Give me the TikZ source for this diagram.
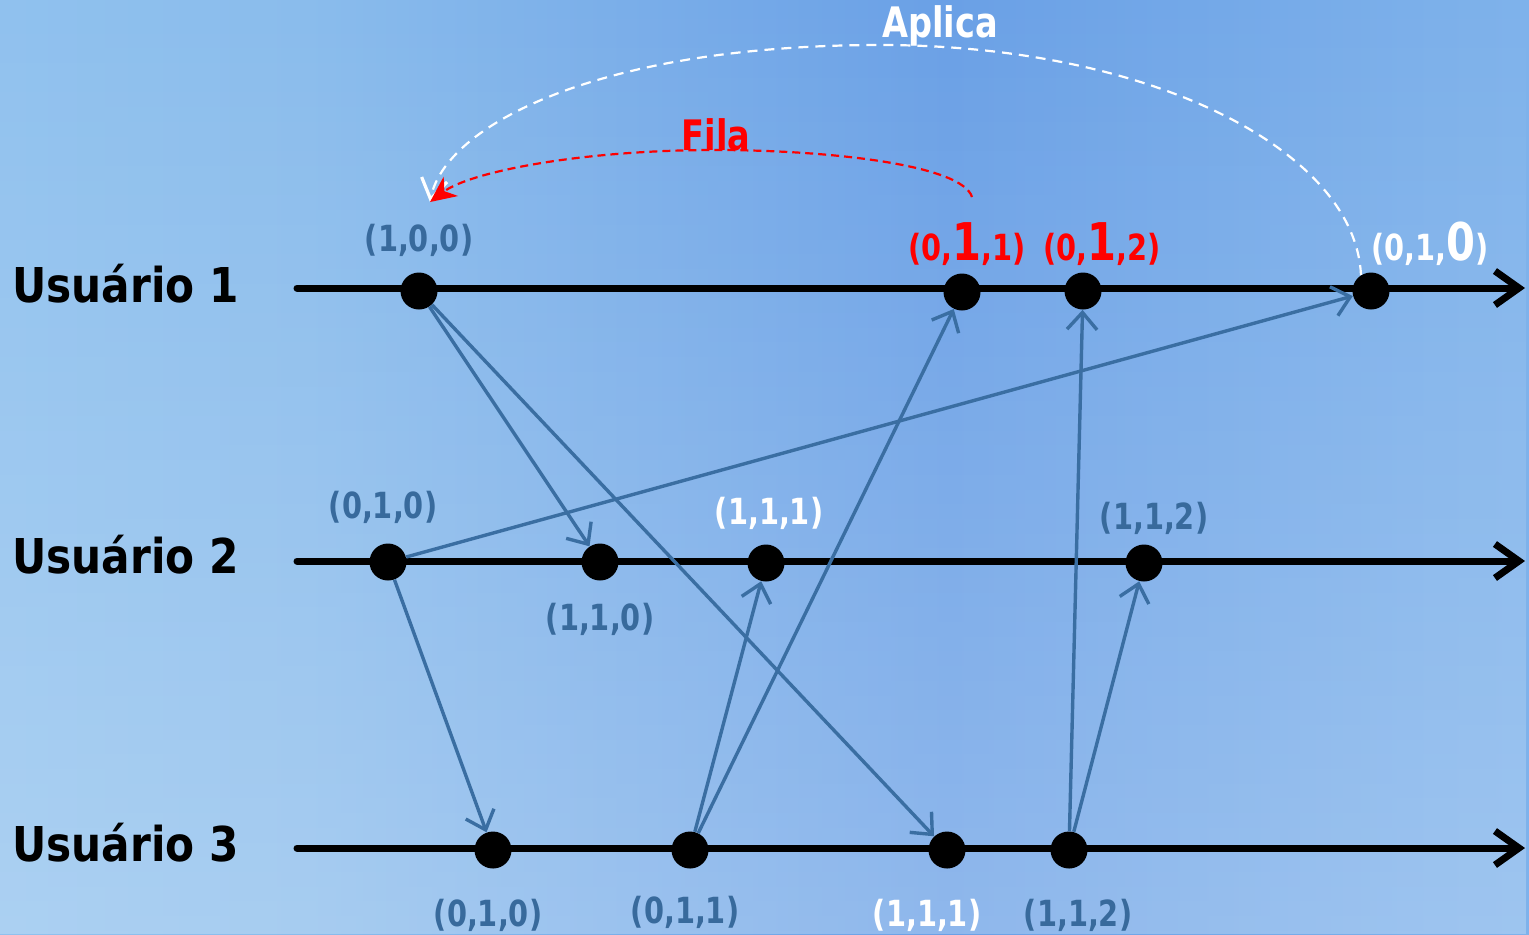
\documentclass[tikz,border=0pt]{standalone}
\usepackage{fontspec}
\setmainfont{DejaVu Sans}[FakeStretch=0.88]
\newfontfamily\lf{DejaVu Sans}[FakeStretch=0.8]
\usetikzlibrary{arrows.meta,fadings}
\definecolor{lblue}{RGB}{56,106,156}
\definecolor{ablue}{RGB}{58,110,162}
\definecolor{bgA}{RGB}{156,203,242}
\definecolor{bgB}{RGB}{147,196,239}
\definecolor{bgC}{RGB}{138,188,236}
\definecolor{bgD}{RGB}{106,160,230}
\definecolor{bgE}{RGB}{124,176,234}
\definecolor{bgF}{RGB}{146,196,241}
\pgfdeclarehorizontalshading{bgsh}{100bp}{color(0bp)=(bgA); color(20bp)=(bgB); color(35bp)=(bgC); color(56bp)=(bgD); color(72bp)=(bgE); color(100bp)=(bgF)}
\tikzfading[name=fadeup, top color=transparent!100, bottom color=transparent!0]
\begin{document}
\begin{tikzpicture}[x=0.5pt,y=-0.5pt,
  dot/.style={circle,fill=black,inner sep=0pt,minimum size=18.5pt},
  lbl/.style={font=\lf\bfseries\fontsize{18}{18}\selectfont, text=lblue, inner sep=0pt, anchor=base},
  msg/.style={draw=ablue, line width=1.7pt, -{Straight Barb[length=8.5pt,width=15pt]}},
  tl/.style={line width=3.5pt, -{Straight Barb[length=12pt,width=17pt]}, line cap=round},
  user/.style={font=\bfseries\fontsize{24}{24}\selectfont, anchor=base west, inner sep=0pt},
  arcfont/.style={font=\lf\bfseries\fontsize{21}{21}\selectfont, inner sep=0pt}]
\newcommand{\bigd}[1]{{\fontsize{26}{26}\selectfont #1}}
\useasboundingbox (0,0) rectangle (1529,934);
\shade[shading=bgsh] (0,0) rectangle (1529,934);
\fill[white, path fading=fadeup, fill opacity=0.25] (0,0) rectangle (1529,934);

% user labels
\node[user] (u1) at (12,302) {Usuário 1};
\node[user] (u2) at (12,573) {Usuário 2};
\node[user] (u3) at (12,861) {Usuário 3};

% time lines
\coordinate (s1) at (297,288); \coordinate (e1) at (1525,288);
\coordinate (s2) at (297,561); \coordinate (e2) at (1525,561);
\coordinate (s3) at (297,848); \coordinate (e3) at (1525,848);
\draw[tl] (s1) -- (e1);
\draw[tl] (s2) -- (e2);
\draw[tl] (s3) -- (e3);

% events
\node[dot] (a1) at (419,291) {};
\node[dot] (a2) at (962,292) {};
\node[dot] (a3) at (1083,291) {};
\node[dot] (a4) at (1371,291) {};
\node[dot] (b1) at (388,562) {};
\node[dot] (b2) at (600,562) {};
\node[dot] (b3) at (766,563) {};
\node[dot] (b4) at (1144,563) {};
\node[dot] (c1) at (493,850) {};
\node[dot] (c2) at (690,850) {};
\node[dot] (c3) at (947,850) {};
\node[dot] (c4) at (1069,850) {};

% messages
\draw[msg] (a1) -- (b2);
\draw[msg] (a1) -- (c3);
\draw[msg] (b1) -- (a4);
\draw[msg] (b1) -- (c1);
\draw[msg] (c2) -- (b3);
\draw[msg] (c2) -- (a2);
\draw[msg] (c4) -- (a3);
\draw[msg] (c4) -- (b4);

% vector labels
\node[lbl] (la1) at (419,251) {(1,0,0)};
\node[lbl, text=red] (la2) at (967,260) {(0,\bigd{1},1)};
\node[lbl, text=red] (la3) at (1102,260) {(0,\bigd{1},2)};
\node[lbl, text=white] (la4) at (1430,260) {(0,1,\bigd{0})};
\node[lbl] (lb1) at (383,518) {(0,1,0)};
\node[lbl] (lb2) at (600,630) {(1,1,0)};
\node[lbl, text=white] (lb3) at (769,524) {(1,1,1)};
\node[lbl] (lb4) at (1154,529) {(1,1,2)};
\node[lbl] (lc1) at (488,926) {(0,1,0)};
\node[lbl] (lc2) at (685,923) {(0,1,1)};
\node[lbl, text=white] (lc3) at (927,926) {(1,1,1)};
\node[lbl] (lc4) at (1078,926) {(1,1,2)};

% arcs
\coordinate (tg) at (430,202);
\coordinate (fs) at (972,197);
\draw[white, line width=1.1pt, dash pattern=on 5pt off 3.5pt, -{Straight Barb[length=10pt,width=13pt,line width=1.6pt]}]
  (a4.122) .. controls (1355,150) and (1150,45) .. (880,45)
  .. controls (600,45) and (445,125) .. (tg);
\draw[red, line width=1.1pt, dash pattern=on 4pt off 2.5pt, -{Stealth[length=13pt,width=12pt,inset=4pt]}]
  (fs) .. controls (962,165) and (830,150) .. (715,150)
  .. controls (580,150) and (470,172) .. (tg);
\node[arcfont, text=white] (ap) at (940,26) {Aplica};
\node[arcfont, text=red] (fi) at (716,135) {Fila};
\end{tikzpicture}
\end{document}
